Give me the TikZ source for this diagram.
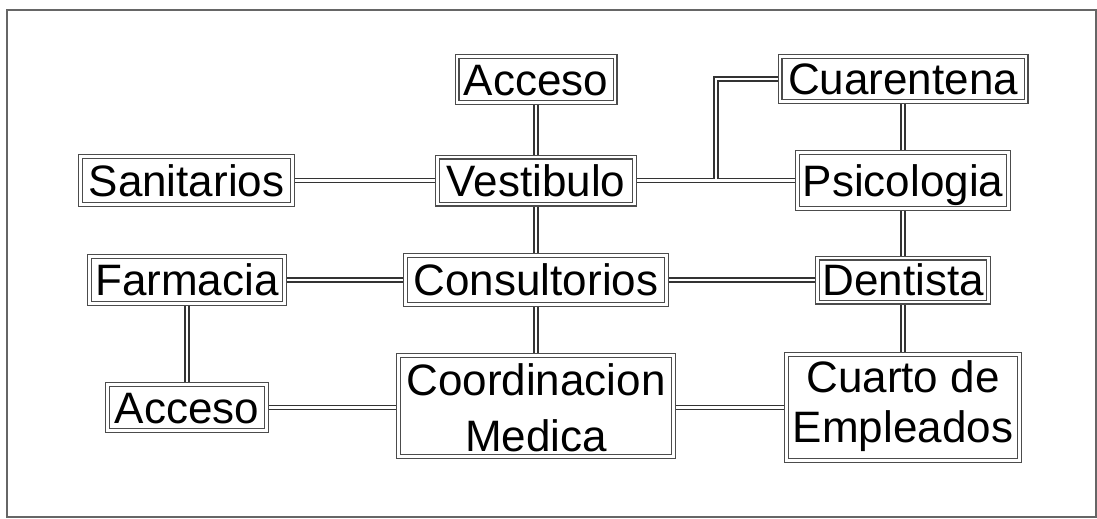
\documentclass[tikz,border=0pt]{standalone}
\usepackage{fontspec}
\setmainfont{Liberation Sans}
\usetikzlibrary{backgrounds}
\begin{document}
\begin{tikzpicture}[x=1pt,y=-1pt,
  room/.style={draw=black!70, line width=1.4pt, double=white, double distance=2.2pt,
    fill=white, inner sep=0pt, font=\fontsize{44}{53}\selectfont,
    text height=31.5pt, text depth=0pt},
  txt/.style={inner sep=0pt, font=\fontsize{44}{53}\selectfont,
    text height=31.5pt, text depth=0pt},
  conn/.style={draw=black!80, line width=1.4pt, double=white, double distance=2.8pt,
    line join=miter},
  frame/.style={draw=black!60, line width=1.8pt}]
\useasboundingbox (0,0) rectangle (1097,519);
\draw[frame] (7,10) rectangle (1096,517);

% left column
\node[room, minimum width=212pt, minimum height=48pt] (sani) at (186.5,180.5) {Sanitarios};
\node[room, minimum width=195pt, minimum height=47pt] (farm) at (187,280) {Farmacia};
\node[room, minimum width=159pt, minimum height=46pt] (acc2) at (187,407.5) {Acceso};

% middle column
\node[room, minimum width=158pt, minimum height=46pt] (acc1) at (536,79.5) {Acceso};
\node[room, minimum width=197pt, minimum height=47pt] (vest) at (536,180.5) {Vestibulo};
\node[room, minimum width=261pt, minimum height=49pt] (cons) at (536,280) {Consultorios};
\node[room, minimum width=275pt, minimum height=101pt] (coord) at (536,406) {};
\node[txt] (coordA) at (536,380) {Coordinacion};
\node[txt] (coordB) at (536,436) {Medica};

% right column
\node[room, minimum width=246pt, minimum height=45pt] (cuar) at (903,79) {Cuarentena};
\node[room, minimum width=211pt, minimum height=56pt] (psic) at (903,180.5) {Psicologia};
\node[room, minimum width=171pt, minimum height=44pt] (dent) at (903,280) {Dentista};
\node[room, minimum width=233pt, minimum height=106pt] (cuarto) at (903,407.5) {};
\node[txt] (cuartoA) at (903,377) {Cuarto de};
\node[txt] (cuartoB) at (903,426.5) {Empleados};

\coordinate (j1) at (716,180.5);
\coordinate (j2) at (716,79);

\begin{pgfonlayer}{background}
\draw[conn]
  (acc1) -- (coord)
  (sani) -- (psic)
  (j1) -- (j2) -- (cuar)
  (cuar) -- (cuarto)
  (farm) -- (dent)
  (farm) -- (acc2)
  (acc2) -- (cuarto);
\end{pgfonlayer}
\end{tikzpicture}
\end{document}
